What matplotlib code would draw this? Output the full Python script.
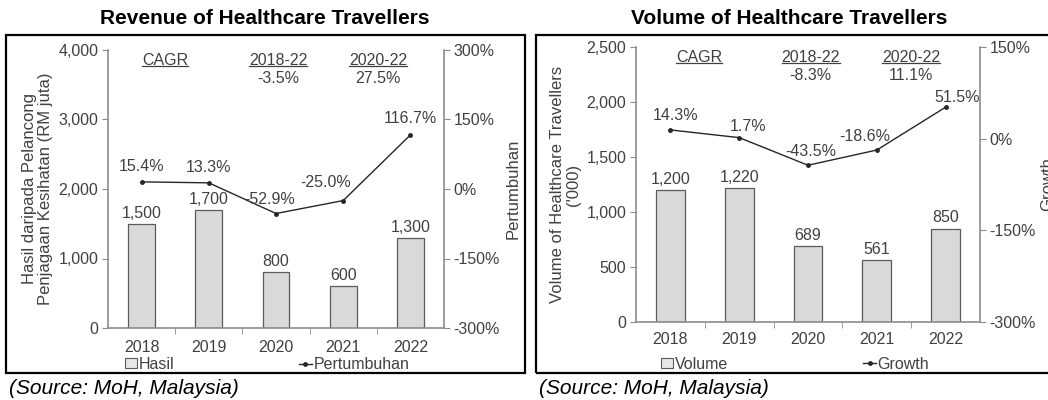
import matplotlib.pyplot as plt
from matplotlib.patches import Rectangle, Patch
from matplotlib.lines import Line2D
from matplotlib.ticker import FuncFormatter, FixedLocator

plt.rcParams["font.family"] = ["Liberation Sans", "DejaVu Sans"]

years = ["2018", "2019", "2020", "2021", "2022"]

revenue = [1500, 1700, 800, 600, 1300]
revenue_growth = [15.4, 13.3, -52.9, -25.0, 116.7]
revenue_cagr = ["-3.5%", "27.5%"]

volume = [1200, 1220, 689, 561, 850]
volume_growth = [14.3, 1.7, -43.5, -18.6, 51.5]
volume_cagr = ["-8.3%", "11.1%"]

TXT = "#404040"
SPINE = "#8c8c8c"
FS = 11.5
W, H = 1048, 400

fig = plt.figure(figsize=(W / 100, H / 100), dpi=100)
underlined = []


def px_axes(x0, y0, x1, y1):
    # pixel box (top-left origin) -> figure fraction
    return fig.add_axes([x0 / W, 1 - y1 / H, (x1 - x0) / W, (y1 - y0) / H])


def frame(x0, y0, x1, y1):
    fig.patches.append(Rectangle((x0 / W, 1 - y1 / H), (x1 - x0) / W, (y1 - y0) / H,
                                 transform=fig.transFigure, fill=False,
                                 edgecolor="black", linewidth=1.6))


def panel(box, bars, growth, ymax, ystep, gmin, gmax, cagr, ylabel, glabel,
          bar_name, line_name, bar_w, lbl_off, cagr_y, xpad, leg_anchor, leg_gap, glabelpad):
    ax = px_axes(*box)
    x = range(len(years))
    ax.bar(x, bars, width=bar_w, color="#d9d9d9", edgecolor="#5a5a5a", linewidth=0.9, zorder=2)
    for i, v in enumerate(bars):
        ax.annotate(f"{v:,}", (i, v), xytext=(0, 3), textcoords="offset pixels",
                    ha="center", va="bottom", fontsize=FS, color=TXT)
    ax.set_xlim(-0.5, len(years) - 0.5)
    ax.set_ylim(0, ymax)
    ax.set_yticks(range(0, ymax + 1, ystep))
    ax.yaxis.set_major_formatter(FuncFormatter(lambda v, p: f"{int(v):,}"))
    ax.set_xticks(list(x))
    ax.set_xticklabels(years)
    ax.xaxis.set_minor_locator(FixedLocator([i + 0.5 for i in range(len(years) - 1)]))
    ax.tick_params(axis="x", which="major", length=0, pad=xpad, labelsize=FS, labelcolor=TXT)
    ax.tick_params(axis="x", which="minor", length=4, color=SPINE)
    ax.tick_params(axis="y", length=4, color=SPINE, labelsize=FS, labelcolor=TXT, pad=3)
    for s in ["top", "right"]:
        ax.spines[s].set_visible(False)
    for s in ["left", "bottom"]:
        ax.spines[s].set_color(SPINE)
        ax.spines[s].set_linewidth(1.2)
    ax.set_ylabel(ylabel, fontsize=12, color=TXT, labelpad=4, linespacing=1.1)

    ax2 = ax.twinx()
    ax2.plot(list(x), growth, color="#262626", linewidth=1.0, marker="o", markersize=2.5, zorder=3)
    for i, g in enumerate(growth):
        dx, dy = lbl_off[i]
        ax2.annotate(f"{g:.1f}%", (i, g), xytext=(dx, dy), textcoords="offset pixels",
                     ha="center", va="center", fontsize=FS, color=TXT)
    ax2.set_ylim(gmin, gmax)
    ax2.set_yticks(range(gmin, gmax + 1, 150))
    ax2.yaxis.set_major_formatter(FuncFormatter(lambda v, p: f"{int(v)}%"))
    ax2.tick_params(axis="y", length=4, color=SPINE, labelsize=FS, labelcolor=TXT, pad=3)
    for s in ["top", "left", "bottom"]:
        ax2.spines[s].set_visible(False)
    ax2.spines["right"].set_color(SPINE)
    ax2.spines["right"].set_linewidth(1.2)
    ax2.set_ylabel(glabel, fontsize=12, color=TXT, labelpad=glabelpad)

    # CAGR block
    tr = ax.get_xaxis_transform()
    for xc, head, val in [(cagr[0], "CAGR", None), (cagr[1], "2018-22", cagr[3]),
                          (cagr[2], "2020-22", cagr[4])]:
        t = ax.text(xc, cagr_y[0], head, transform=tr, ha="center", va="center",
                    fontsize=FS, color=TXT)
        underlined.append(t)
        if val is not None:
            ax.text(xc, cagr_y[1], val, transform=tr, ha="center", va="center",
                    fontsize=FS, color=TXT)

    handles = [Patch(facecolor="#e6e6e6", edgecolor="#5a5a5a", linewidth=0.8),
               Line2D([], [], color="#262626", linewidth=1.0, marker="o", markersize=2.5)]
    ax.legend(handles, [bar_name, line_name], ncol=2, loc="upper center",
              bbox_to_anchor=leg_anchor, frameon=False, fontsize=FS, labelcolor=TXT,
              handlelength=0.8, handleheight=0.55, handletextpad=0.1, columnspacing=leg_gap,
              borderpad=0, borderaxespad=0)
    return ax


# Revenue (left)
frame(6, 35, 525, 373)
panel((108, 50, 444, 328), revenue, revenue_growth, 4000, 1000, -300, 300,
      (0.35, 2.03, 3.52, revenue_cagr[0], revenue_cagr[1]),
      "Hasil daripada Pelancong\nPenjagaan Kesihatan (RM juta)", "Pertumbuhan",
      "Hasil", "Pertumbuhan", 0.4,
      [(0, 15), (0, 15), (-6, 14), (-18, 18), (0, 16)], (0.964, 0.899),
      8.5, (0.473, -0.104), 7.8, 4)
fig.text(265 / W, 1 - 19 / H, "Revenue of Healthcare Travellers", ha="center", va="center",
         fontsize=15, fontweight="bold", color="black")
fig.text(9 / W, 1 - 388 / H, "(Source: MoH, Malaysia)", ha="left", va="center",
         fontsize=15, style="italic", color="black")

# Volume (right)
frame(536, 35, 1070, 373)
panel((636, 47, 980, 322), volume, volume_growth, 2500, 500, -300, 150,
      (0.416, 2.04, 3.5, volume_cagr[0], volume_cagr[1]),
      "Volume of Healthcare Travellers\n('000)", "Growth",
      "Volume", "Growth", 0.42,
      [(5, 14), (9, 11), (3, 14), (-12, 14), (12, 10)], (0.963, 0.898),
      7, (0.462, -0.126), 8.45, 3)
fig.text(789 / W, 1 - 19 / H, "Volume of Healthcare Travellers", ha="center", va="center",
         fontsize=15, fontweight="bold", color="black")
fig.text(539 / W, 1 - 388 / H, "(Source: MoH, Malaysia)", ha="left", va="center",
         fontsize=15, style="italic", color="black")

# underline the CAGR headers
fig.canvas.draw()
renderer = fig.canvas.get_renderer()
for t in underlined:
    bb = t.get_window_extent(renderer)
    y = (bb.y0 + 1.5) / H
    fig.add_artist(Line2D([bb.x0 / W, bb.x1 / W], [y, y], transform=fig.transFigure,
                          color=TXT, linewidth=0.9))

fig.savefig("out.png", dpi=100)
